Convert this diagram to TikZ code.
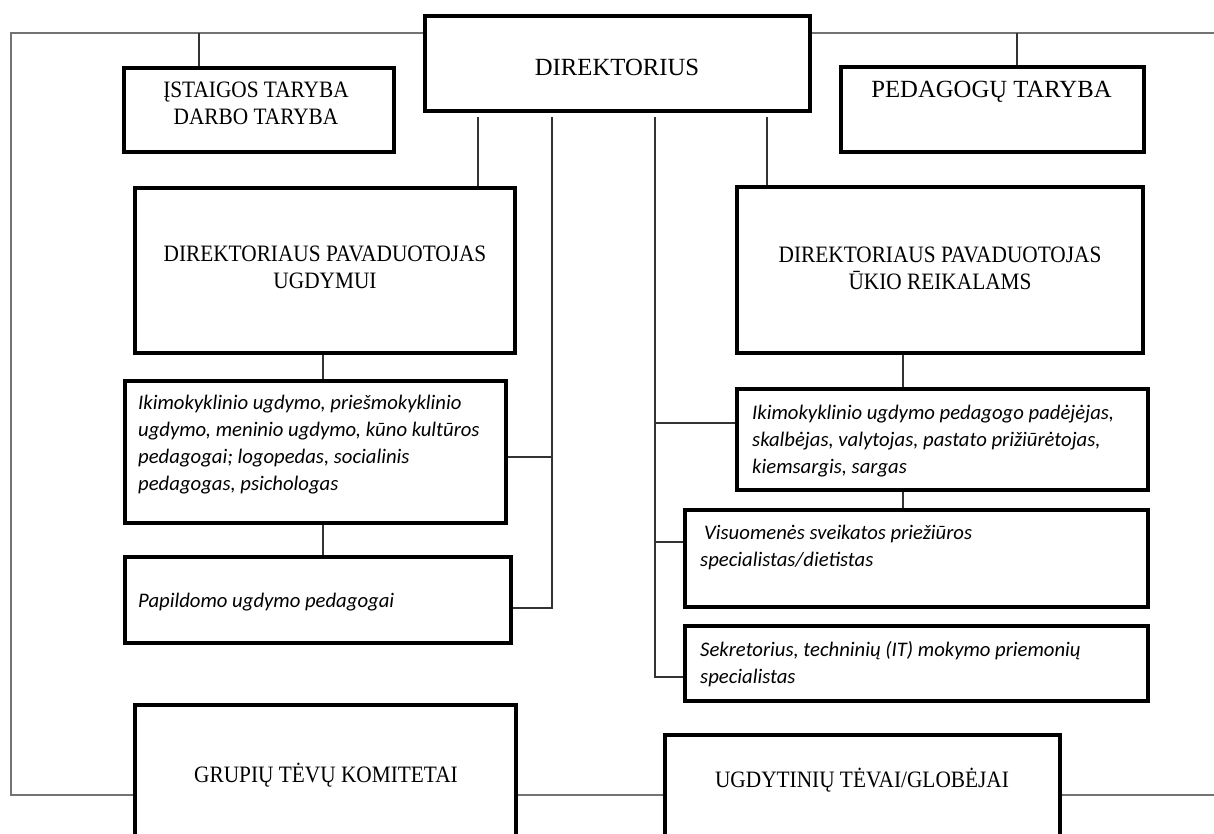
\documentclass[tikz,border=0pt]{standalone}
\usepackage{fontspec}
\usetikzlibrary{calc}
\setmainfont{Liberation Serif}
\newfontfamily\condserif{Liberation Serif}[FakeStretch=0.907]
\newfontfamily\bodyfam{Carlito}
\tikzset{
  box/.style={draw=black, line width=4.6pt, inner sep=0pt, fill=white},
  conn/.style={draw=black!80, line width=1.4pt},
  frame/.style={draw=black!55, line width=1.6pt},
  title/.style={font=\condserif\fontsize{23.5}{27}\selectfont, align=center, text=black, inner sep=0pt},
  bigtitle/.style={title, font=\fontsize{24.7}{30}\selectfont},
  body/.style={font=\bodyfam\itshape\fontsize{20.7}{27}\selectfont, align=left, anchor=west, text=black, inner sep=0pt},
}
\begin{document}
\begin{tikzpicture}[x=1pt,y=-1pt]
\clip (0,0) rectangle (1214,834);
\fill[white] (0,0) rectangle (1214,834);
% junction coordinates
\coordinate (tl) at (11,33);
\coordinate (bl) at (11,795);
\coordinate (tr) at (1214,33);
\coordinate (br) at (1214,795);
\coordinate (istj) at (199,33);
\coordinate (pedj) at (1017,33);
\coordinate (cL) at (478,0);
\coordinate (cR) at (767,0);
\coordinate (vL) at (552,0);
\coordinate (vR) at (655,0);
\coordinate (sL) at (323,0);
\coordinate (sR) at (903,0);
% boxes
\node[box, minimum width=385, minimum height=95] (dir) at (617.5,63.5) {};
\node[box, minimum width=270, minimum height=84] (ist) at (259,110) {};
\node[box, minimum width=303, minimum height=85] (ped) at (992.5,109.5) {};
\node[box, minimum width=380, minimum height=165] (depL) at (325,270.5) {};
\node[box, minimum width=406, minimum height=166] (depR) at (940,270) {};
\node[box, minimum width=381, minimum height=142] (staffL) at (315.5,452) {};
\node[box, minimum width=386, minimum height=86] (papL) at (318,600) {};
\node[box, minimum width=411, minimum height=101] (staffR) at (942.5,439.5) {};
\node[box, minimum width=463, minimum height=97] (vis) at (916.5,558.5) {};
\node[box, minimum width=463, minimum height=75] (sek) at (916.5,663.5) {};
\node[box, minimum width=381, minimum height=155] (gru) at (325.5,782.5) {};
\node[box, minimum width=395, minimum height=125] (ugd) at (862.5,797.5) {};
% outer frame
\draw[frame] (dir.west |- tl) -- (tl) -- (bl) -- (gru.west |- bl);
\draw[frame] (gru.east |- bl) -- (ugd.west |- bl);
\draw[frame] (ugd.east |- bl) -- (br);
\draw[frame] (dir.east |- tr) -- (tr);
\draw[conn] (istj) -- (istj |- ist.north);
\draw[conn] (pedj) -- (pedj |- ped.north);
% director connectors
\draw[conn, shorten <=4pt] (cL |- dir.south) -- (cL |- depL.north);
\draw[conn, shorten <=4pt] (cR |- dir.south) -- (cR |- depR.north);
\coordinate (papj) at ($(papL.east)+(0,8)$);
\coordinate (stLj) at ($(staffL.east)+(0,5)$);
\draw[conn, shorten <=4pt] (vL |- dir.south) -- (vL |- papj) -- (papj);
\draw[conn] (vL |- stLj) -- (stLj);
\coordinate (sekj) at ($(sek.west)+(0,13.5)$);
\coordinate (stRj) at ($(staffR.west)+(0,-16.5)$);
\coordinate (visj) at ($(vis.west)+(0,-16.5)$);
\draw[conn, shorten <=4pt] (vR |- dir.south) -- (vR |- sekj) -- (sekj);
\draw[conn] (vR |- stRj) -- (stRj);
\draw[conn] (vR |- visj) -- (visj);
% deputy chains
\draw[conn] (sL |- depL.south) -- (sL |- staffL.north);
\draw[conn] (sL |- staffL.south) -- (sL |- papL.north);
\draw[conn] (sR |- depR.south) -- (sR |- staffR.north);
\draw[conn] (sR |- staffR.south) -- (sR |- vis.north);
% texts
\node[title] (istT) at (256,103) {ĮSTAIGOS TARYBA\\DARBO TARYBA};
\node[bigtitle] (dirT) at (617,67) {DIREKTORIUS};
\node[bigtitle] (pedT) at (991.5,92) {PEDAGOGŲ TARYBA};
\node[title] (depLT) at (325,267) {DIREKTORIAUS PAVADUOTOJAS\\UGDYMUI};
\node[title] (depRT) at (940,268.5) {DIREKTORIAUS PAVADUOTOJAS\\ŪKIO REIKALAMS};
\node[title] (gruT) at (326,775) {GRUPIŲ TĖVŲ KOMITETAI};
\node[title] (ugdT) at (862,780) {UGDYTINIŲ TĖVAI/GLOBĖJAI};
\node[body] (staffLT) at (138,445) {Ikimokyklinio ugdymo, priešmokyklinio\\ugdymo, meninio ugdymo, kūno kultūros\\pedagogai; logopedas, socialinis\\pedagogas, psichologas};
\node[body] (papLT) at (138,602) {Papildomo ugdymo pedagogai};
\node[body] (staffRT) at (752,441) {Ikimokyklinio ugdymo pedagogo padėjėjas,\\skalbėjas, valytojas, pastato prižiūrėtojas,\\kiemsargis, sargas};
\node[body] (visT) at (700,547) {\hspace*{4pt}Visuomenės sveikatos priežiūros\\specialistas/dietistas};
\node[body] (sekT) at (700,664) {Sekretorius, techninių (IT) mokymo priemonių\\specialistas};
\end{tikzpicture}
\end{document}
